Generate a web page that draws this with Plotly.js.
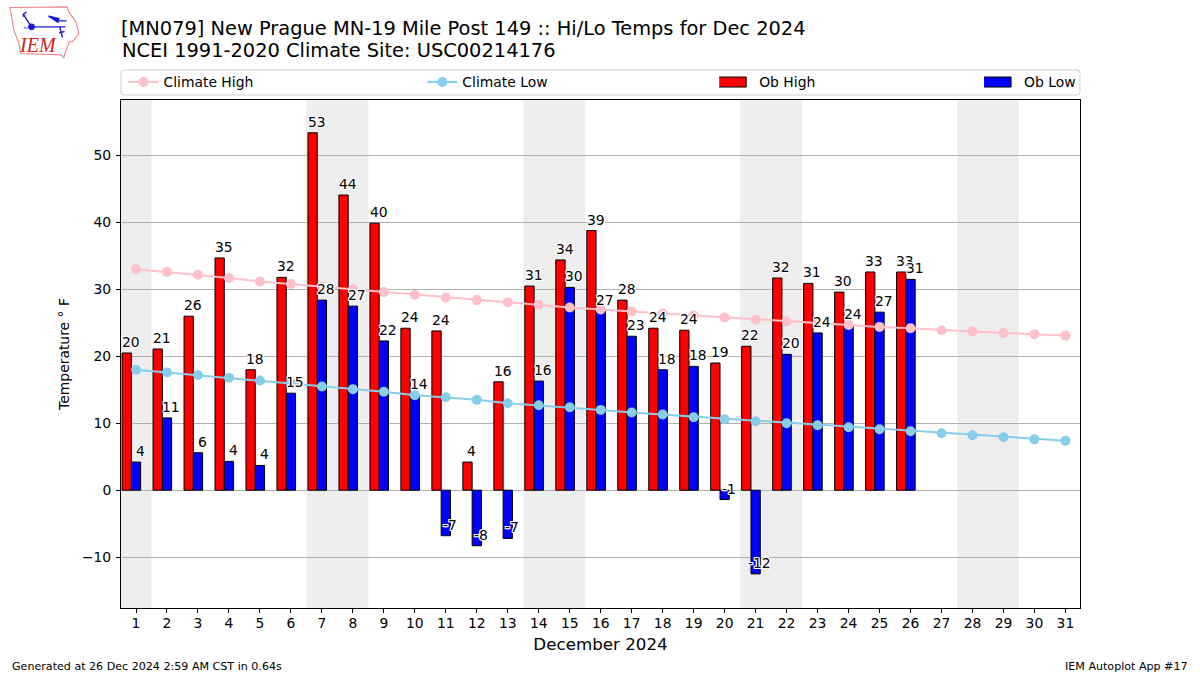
<!DOCTYPE html>
<html><head><meta charset="utf-8">
<script src="https://cdn.plot.ly/plotly-3.0.1.min.js"></script>
<style>html,body{margin:0;padding:0;background:#fff}#chart{width:1200px;height:675px}
path.legendbar,path.legendundefined{d:path("M7,5H-21V-5H7Z")}</style>
</head><body><div id="chart"></div>
<script>
const days = [1,2,3,4,5,6,7,8,9,10,11,12,13,14,15,16,17,18,19,20,21,22,23,24,25,26,27,28,29,30,31];
const obDays = days.slice(0,26);
const obHigh = [20.5,21.1,26,34.7,18,31.8,53.4,44.1,39.9,24.2,23.8,4.2,16.2,30.5,34.4,38.8,28.4,24.2,23.9,19,21.5,31.7,30.9,29.6,32.6,32.6];
const obLow = [4.2,10.8,5.6,4.3,3.7,14.5,28.4,27.5,22.3,14.2,-6.8,-8.3,-7.2,16.3,30.3,26.8,23,18,18.5,-1.4,-12.5,20.3,23.5,24.7,26.6,31.5];
const highLabels = [20,21,26,35,18,32,53,44,40,24,24,4,16,31,34,39,28,24,24,19,22,32,31,30,33,33];
const lowLabels = [4,11,6,4,4,15,28,27,22,14,-7,-8,-7,16,30,27,23,18,18,-1,-12,20,24,24,27,31];
const climateHigh = [33,32.6,32.2,31.7,31.2,30.8,30.4,30,29.6,29.2,28.8,28.4,28.1,27.7,27.3,27,26.7,26.4,26.1,25.8,25.5,25.2,25,24.7,24.4,24.2,23.9,23.7,23.5,23.3,23.1];
const climateLow = [18,17.6,17.2,16.8,16.4,16,15.5,15.1,14.7,14.2,13.9,13.5,13,12.7,12.4,12,11.6,11.3,10.9,10.6,10.3,10,9.7,9.4,9.1,8.8,8.5,8.2,7.9,7.6,7.4];
const weekends = [[0.5,1.5],[6.5,8.5],[13.5,15.5],[20.5,22.5],[27.5,29.5]];
const yTicks = [-10,0,10,20,30,40,50];
const yTickText = ['\u221210','0','10','20','30','40','50'];

const FONT = 'DejaVu Sans';
const L = 120.5, R = 1080, T = 100, B = 608;
const px = x => (x - L) / (R - L);
const py = y => (B - y) / (B - T);
const halo = [[1,1],[-1,-1],[1,-1],[-1,1],[1,0],[-1,0],[0,1],[0,-1]].map(o => o[0]+'px '+o[1]+'px 0 #fff').join(',');

function barLabel(x, y, label) {
  return {x: x, y: y, xref: 'x', yref: 'y', text: String(label), showarrow: false,
    xanchor: 'center', yanchor: 'bottom', yshift: 2, xshift: -0.5, borderpad: 0,
    font: {family: FONT, size: 13.9, color: '#000', shadow: halo}};
}
const labelNotes = [];
obDays.forEach((d, i) => {
  labelNotes.push(barLabel(d - 0.15, obHigh[i], highLabels[i]));
  labelNotes.push(barLabel(d + 0.15, obLow[i], lowLabels[i]));
});
function pageText(x, y, text, anchor, size, extra) {
  return Object.assign({x: px(x), y: py(y), xref: 'paper', yref: 'paper', text: text, showarrow: false,
    xanchor: anchor, yanchor: 'middle', borderpad: 0, font: {family: FONT, size: size, color: '#000'}}, extra || {});
}

const logo = `<svg xmlns="http://www.w3.org/2000/svg" viewBox="0 0 300 200" width="100" height="67">
<path d="M28 22 L200 20 L205 36 L216 50 L228 70 L235 100 L216 124 L206 126 L197 150 L190 172 L180 164 L60 160 L55 130 L40 90 L36 65 Z" fill="none" stroke="#e58a8a" stroke-width="3.5"/>
<g stroke="#1a1ad6" fill="none" stroke-width="4">
<path d="M93 80 H195 M93 80 L68 42 L78 36 M66 48 L74 46 M165 62 H198 M178 82 L186 112 M176 98 L192 94"/>
<path d="M144 48 L175 55 L172 66 Z" fill="#1a1ad6"/><circle cx="93" cy="80" r="8" fill="#1a1ad6"/>
<path d="M70 86 L74 80 L78 86 M80 86 L84 80 L88 86" stroke-width="2"/></g></svg>`;

const traces = [
  {type:'bar', name:'Ob High', x:obDays, y:obHigh, width:0.3, offset:-0.45, legend:'legend3',
   marker:{color:'#ff0000', line:{color:'#000', width:1}}, hoverinfo:'y'},
  {type:'bar', name:'Ob Low', x:obDays, y:obLow, width:0.3, offset:-0.15, legend:'legend4',
   marker:{color:'#0000ff', line:{color:'#000', width:1}}, hoverinfo:'y'},
  {type:'scatter', mode:'lines+markers', name:'Climate High', x:days, y:climateHigh, legend:'legend',
   line:{color:'#ffc0cb', width:2}, marker:{color:'#ffc0cb', size:10}},
  {type:'scatter', mode:'lines+markers', name:'Climate Low', x:days, y:climateLow, legend:'legend2',
   line:{color:'#87ceeb', width:2}, marker:{color:'#87ceeb', size:10}}
];
function legendAt(x) {
  return {x: px(x), y: py(82.5), xanchor:'left', yanchor:'middle', bgcolor:'rgba(0,0,0,0)', borderwidth:0,
    itemwidth:30, font:{family:FONT, size:13.9, color:'#000'}};
}
const shapes = weekends.map(w => ({type:'rect', xref:'x', yref:'paper', x0:w[0], x1:w[1], y0:0, y1:1,
  fillcolor:'#eeeeee', line:{width:0}, layer:'below'}));
const fx0 = px(120.5), fx1 = px(1080), fy0 = py(95), fy1 = py(70), rx = 3/(R-L), ry = 3/(B-T);
shapes.push({type:'path', xref:'paper', yref:'paper', line:{color:'#d0d0d0', width:1}, fillcolor:'#fff', layer:'above',
  path:`M${fx0+rx},${fy0} L${fx1-rx},${fy0} Q${fx1},${fy0} ${fx1},${fy0+ry} L${fx1},${fy1-ry} Q${fx1},${fy1} ${fx1-rx},${fy1} L${fx0+rx},${fy1} Q${fx0},${fy1} ${fx0},${fy1-ry} L${fx0},${fy0+ry} Q${fx0},${fy0} ${fx0+rx},${fy0} Z`});

const layout = {
  width:1200, height:675, autosize:false,
  margin:{l:L, r:1200-R, t:T, b:675-B, pad:0},
  paper_bgcolor:'#fff', plot_bgcolor:'#fff',
  font:{family:FONT, size:13.9, color:'#000'},
  barmode:'overlay', showlegend:true, hovermode:false,
  title:{text:'[MN079] New Prague MN-19 Mile Post 149 :: Hi/Lo Temps for Dec 2024',
    x:0, xref:'paper', xanchor:'left', y:1-21/675, yanchor:'top', yref:'container',
    font:{family:FONT, size:19.4, color:'#000'}, pad:{l:0,t:0,b:0,r:0}},
  xaxis:{range:[0.516,31.47], tickmode:'array', tickvals:days, ticktext:days.map(String), showgrid:false, zeroline:false,
    ticks:'outside', ticklen:4, tickwidth:1, tickcolor:'#000', showline:true, mirror:true, linecolor:'#000', linewidth:1,
    ticklabelstandoff:-2, tickangle:0, tickfont:{family:FONT, size:13.9}, title:{text:'December 2024', font:{family:FONT, size:16.7}, standoff:8}},
  yaxis:{range:[-17.6,58.3], tickmode:'array', tickvals:yTicks, ticktext:yTickText, showgrid:true, gridcolor:'#b0b0b0', gridwidth:1,
    zeroline:true, zerolinecolor:'#b0b0b0', zerolinewidth:1,
    ticks:'outside', ticklen:4, tickwidth:1, tickcolor:'#000', showline:true, mirror:true, linecolor:'#000', linewidth:1,
    ticklabelstandoff:2, tickfont:{family:FONT, size:13.9}, title:{text:'Temperature ° F', font:{family:FONT, size:13.9}, standoff:9}},
  legend:legendAt(123), legend2:legendAt(422), legend3:legendAt(719), legend4:legendAt(984),
  shapes:shapes,
  images:[{source:'data:image/svg+xml;utf8,'+encodeURIComponent(logo), xref:'paper', yref:'paper',
    x:px(0), y:py(0), sizex:100/(R-L), sizey:67/(B-T), sizing:'stretch', xanchor:'left', yanchor:'top', layer:'above'}],
  annotations: labelNotes.concat([
    pageText(120.5, 51, 'NCEI 1991-2020 Climate Site: USC00214176', 'left', 19.4),
    pageText(37, 45, 'IEM', 'center', 20, {font:{family:'Liberation Serif', size:20, color:'#d42020'}, text:'<i>IEM</i>'}),
    pageText(10, 666, 'Generated at 26 Dec 2024 2:59 AM CST in 0.64s', 'left', 11.1),
    pageText(1189, 666, 'IEM Autoplot App #17', 'right', 11.1)
  ])
};
Plotly.newPlot('chart', traces, layout, {staticPlot:true, displayModeBar:false});
</script></body></html>
